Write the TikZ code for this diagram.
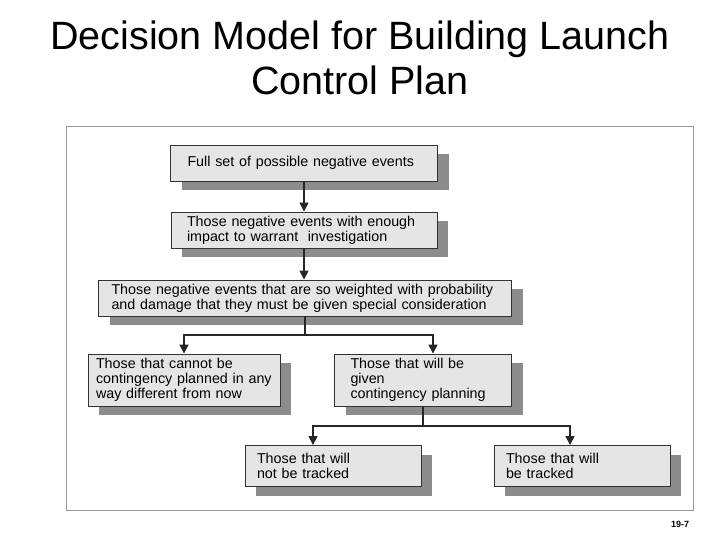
\documentclass[tikz,border=0pt]{standalone}
\usepackage{fontspec}
\setmainfont{Liberation Sans}
\usetikzlibrary{arrows.meta}
\begin{document}
\begin{tikzpicture}[x=1pt,y=-1pt,>={Triangle[length=9pt,width=9pt]},line width=1.6pt,draw=black!85]
	\tikzstyle{box}=[draw=black!80,line width=0.9pt,fill=black!10,inner sep=0pt,font=\fontsize{14.3}{15}\selectfont,align=left,
		preaction={fill=black!45,transform canvas={shift={(11pt,-9pt)}}}]
	\useasboundingbox (0,0) rectangle (720,540);

	% title
	\node[font=\fontsize{39.5}{45}\selectfont,align=center] (title) at (360,58) {Decision Model for Building Launch\\Control Plan};
	\draw[black!40,line width=0.8pt] (66,126) rectangle (693,510);

	% boxes
	\node[box,minimum width=267pt,minimum height=36pt,text width=233pt] (full) at (304,163) {Full set of possible negative events};
	\node[box,minimum width=266pt,minimum height=36pt,text width=234pt] (impact) at (304,230) {Those negative events with enough\\impact to warrant\ \ investigation};
	\node[box,minimum width=413pt,minimum height=36pt,text width=387pt] (weight) at (305,298) {Those negative events that are so weighted with probability\\and damage that they must be given special consideration};
	\node[box,minimum width=192pt,minimum height=52pt,text width=176pt] (cannot) at (184,380) {Those that cannot be\\contingency planned in any\\way different from now};
	\node[box,minimum width=177pt,minimum height=52pt,text width=145pt] (given) at (423,380) {Those that will be given\\contingency planning};
	\node[box,minimum width=176pt,minimum height=41pt,text width=152pt] (nottrack) at (333,466) {Those that will\\not be tracked};
	\node[box,minimum width=176pt,minimum height=41pt,text width=152pt] (track) at (582,466) {Those that will\\be tracked};
	\node[font=\bfseries\fontsize{9}{10}\selectfont] (page) at (680,524) {19-7};

	% connectors
	\coordinate (s1) at (305,335);
	\coordinate (s2) at (423,426);
	\draw[->] (full) -- (impact);
	\draw[->] (impact.south -| full) -- (weight.north -| full);
	\draw (weight.south) -- (s1);
	\draw[->] (s1) -| (cannot.north);
	\draw[->] (s1) -| ([xshift=10pt]given.north);
	\draw (given.south) -- (s2);
	\draw[->] (s2) -| ([xshift=-20pt]nottrack.north);
	\draw[->] (s2) -| ([xshift=-12pt]track.north);
\end{tikzpicture}
\end{document}
